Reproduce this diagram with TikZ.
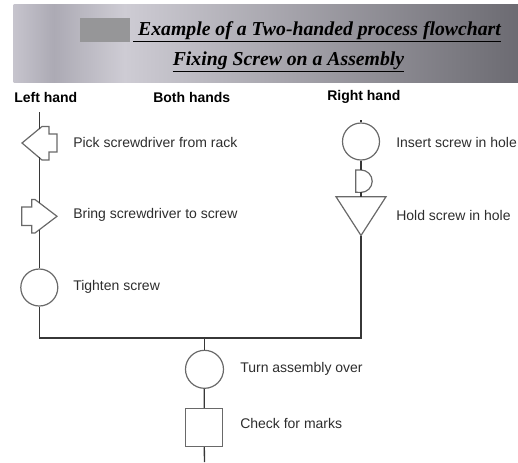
\documentclass[tikz,border=0pt]{standalone}
\usepackage{fontspec}
\setmainfont{Liberation Serif}
\newfontfamily\arialfont{Liberation Sans}
\usetikzlibrary{calc,positioning}
\definecolor{BanA}{RGB}{198,196,205}
\definecolor{BanB}{RGB}{172,170,180}
\definecolor{BanC}{RGB}{206,204,212}
\definecolor{BanD}{RGB}{108,107,114}
\definecolor{BlkGray}{RGB}{150,150,152}
\definecolor{LineGray}{RGB}{55,55,55}
\definecolor{ShapeGray}{RGB}{105,105,105}
\definecolor{TxtGray}{RGB}{45,45,45}
\pgfdeclarehorizontalshading{bannershade}{100bp}{color(0bp)=(BanA); color(25bp)=(BanA); color(29bp)=(BanB); color(36bp)=(BanC); color(75bp)=(BanD); color(100bp)=(BanD)}

\begin{document}
\begin{tikzpicture}[x=0.75pt,y=-0.75pt,
  op/.style={circle,draw=ShapeGray,line width=0.9pt,fill=white,minimum size=27.75pt,inner sep=0pt},
  insp/.style={rectangle,draw=ShapeGray,line width=0.9pt,fill=white,minimum width=27.5pt,minimum height=28.7pt,inner sep=0pt},
  shp/.style={draw=ShapeGray,line width=0.9pt,fill=white,line join=miter},
  flow/.style={draw=LineGray,line width=1pt},
  lbl/.style={font=\arialfont\fontsize{10.5}{12}\selectfont,text=TxtGray,anchor=west,inner sep=0pt},
  hdr/.style={font=\arialfont\bfseries\fontsize{10.5}{12}\selectfont,anchor=west,inner sep=0pt},
  ttl/.style={font=\bfseries\itshape\fontsize{14.8}{17}\selectfont,inner sep=0pt}]
\useasboundingbox (0,0) rectangle (518,462);
% banner
\shade[shading=bannershade] (13.5,4) rectangle (518,82);
\fill[BlkGray] (80,18) rectangle (130,42);
\node[ttl,anchor=base west] (title1) at (133,35) {\underline{~Example of a Two-handed process flowchart}};
\node[ttl,anchor=base] (title2) at (288.5,65) {\underline{Fixing Screw on a Assembly}};
% column heads
\node[hdr] (hLeft) at (14,97) {Left hand};
\node[hdr] (hBoth) at (153,97) {Both hands};
\node[hdr] (hRight) at (327,97) {Right hand};
% left hand
\coordinate (lTop) at (39.3,112);\coordinate (pickN) at (39.3,128.7);\coordinate (pickS) at (39.3,157.3);
\coordinate (bringN) at (39.3,202.8);\coordinate (bringS) at (39.3,229.7);
\draw[shp] (22,143)--(42,126.5)--(49,126.5)--(49,134)--(57,134)--(57,152)--(49,152)--(49,160)--(42,160)--cycle;
\draw[shp] (21.7,207)--(31.7,207)--(31.7,199.5)--(35,199.5)--(57,216.3)--(35,233)--(31.7,233)--(31.7,225.5)--(21.7,225.5)--cycle;
\node[op] (tighten) at (39.3,287.5) {};
\node[lbl] (pickL) at (73,142) {Pick screwdriver from rack};
\node[lbl] (bringL) at (73,215) {Bring screwdriver to screw};
\node[lbl] (tightenL) at (73,287) {Tighten screw};
% right hand
\coordinate (rTop) at (361,120);\coordinate (dlyN) at (361,170);\coordinate (dlyS) at (361,192.3);
\coordinate (holdN) at (361,196.7);\coordinate (holdS) at (361,235.5);
\node[op] (insert) at (361,141.5) {};
\draw[shp] (355.7,170)--(361,170) arc[start angle=90,end angle=-90,radius=8.4pt]--(355.7,192.3)--cycle;
\draw[shp] (336,196.7)--(386,196.7)--(holdS)--cycle;
\node[lbl] (insertL) at (396,142) {Insert screw in hole};
\node[lbl] (holdL) at (396,215) {Hold screw in hole};
% both hands
\coordinate (lJoin) at (39.3,338);\coordinate (bJoin) at (204.5,338);\coordinate (rJoin) at (361,338);\coordinate (bEnd) at (204.5,462);
\node[op,minimum size=28.5pt] (turn) at (204.5,369.3) {};
\node[insp] (check) at (204,427.5) {};
\node[lbl] (turnL) at (240,369) {Turn assembly over};
\node[lbl] (checkL) at (240,423) {Check for marks};
% connectors
\draw[flow] (lTop)--(pickN);\draw[flow] (pickS)--(bringN);\draw[flow] (bringS)--(tighten);
\draw[flow] (tighten)--(lJoin)--(rJoin)--(holdS);
\draw[flow] (rTop)--(insert);\draw[flow] (insert)--(dlyN);\draw[flow] (dlyS)--(holdN);
\draw[flow] (bJoin)--(turn);\draw[flow] (turn)--(check);\draw[flow] (check)--(bEnd);
\end{tikzpicture}
\end{document}
